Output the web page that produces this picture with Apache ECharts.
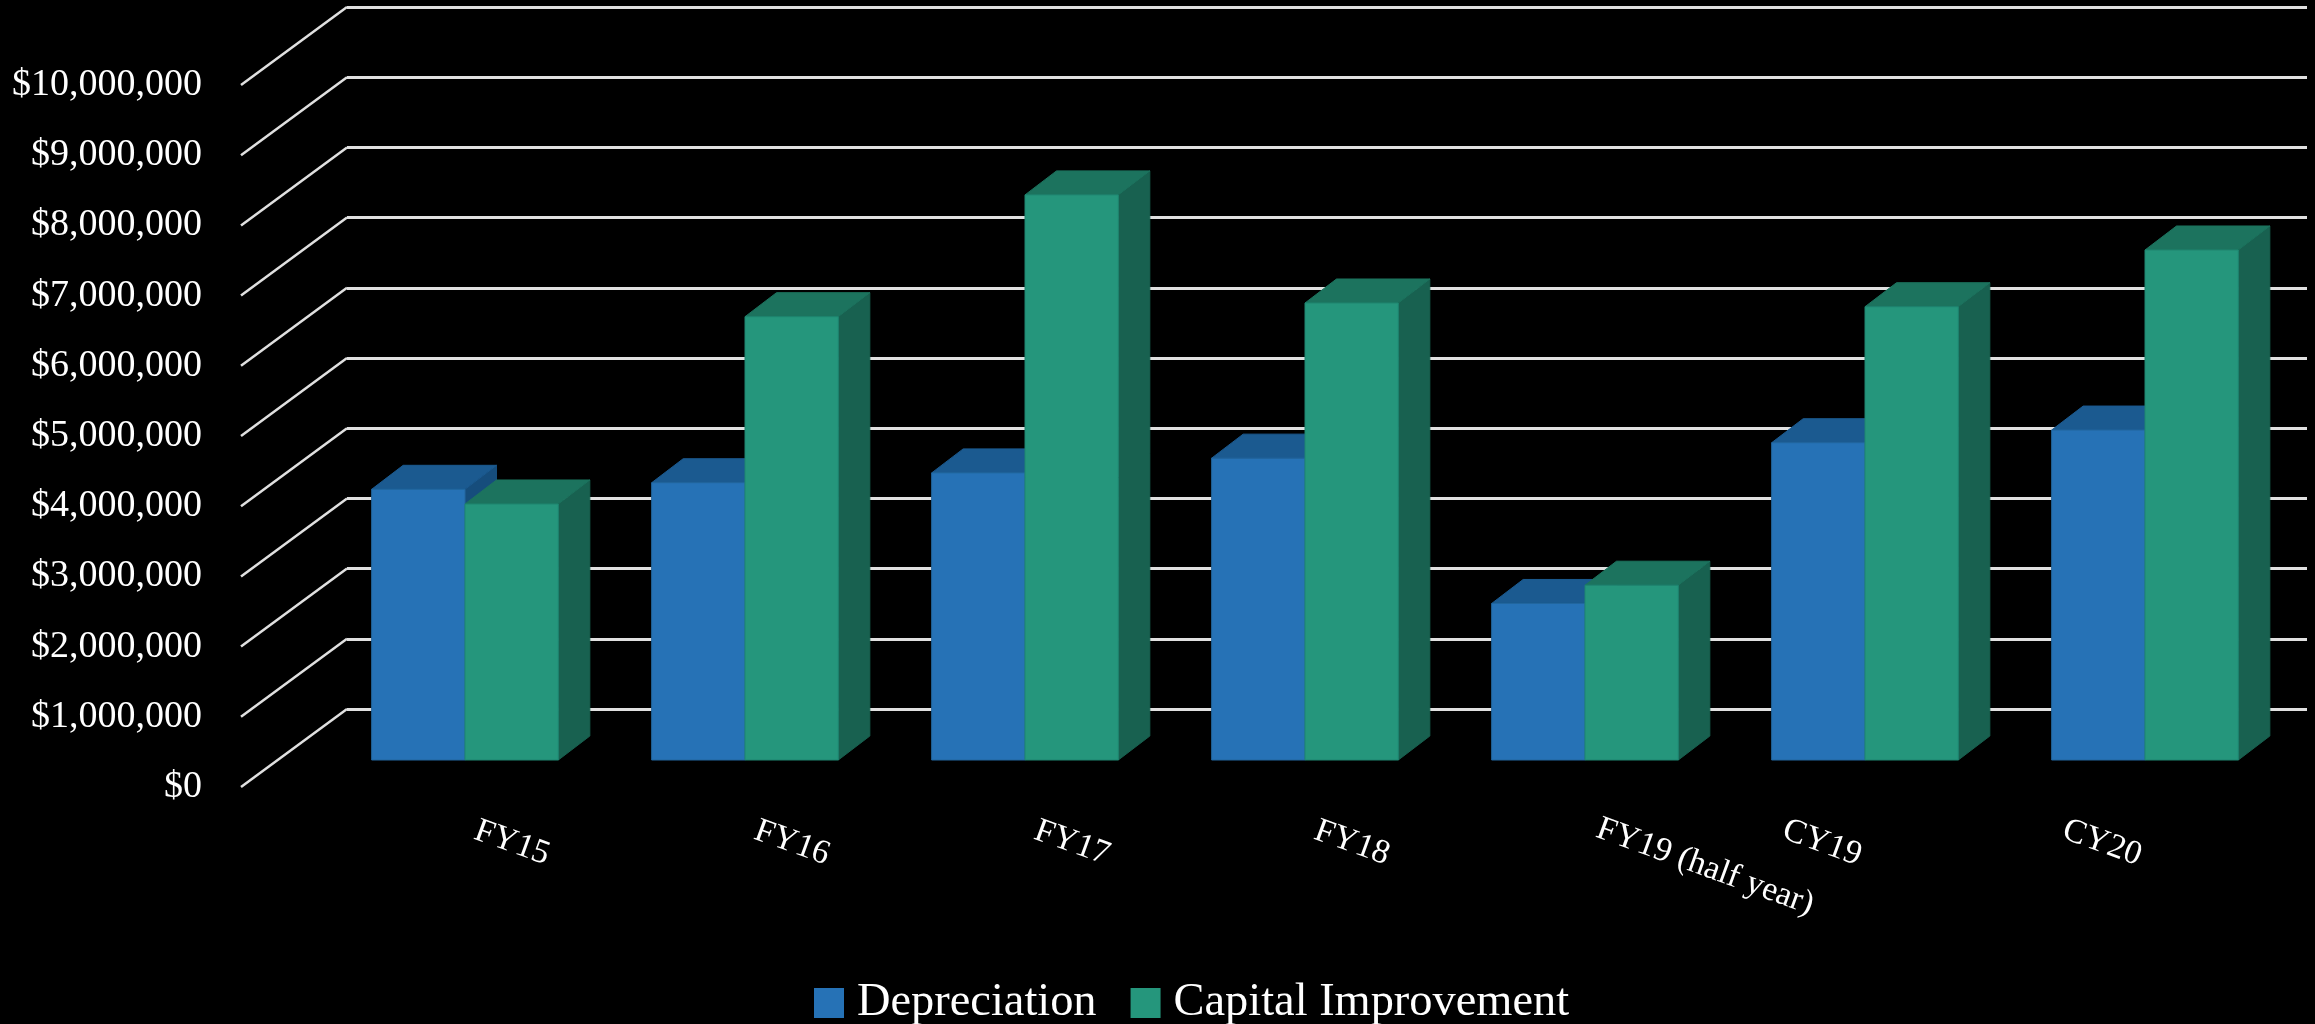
<!DOCTYPE html>
<html>
<head>
<meta charset="utf-8">
<style>html,body{margin:0;padding:0;background:#000}#chart{width:2315px;height:1024px}</style>
<script src="https://cdn.jsdelivr.net/npm/echarts@6/dist/echarts.min.js"></script>
</head>
<body>
<div id="chart"></div>
<script>
// Annual depreciation against capital improvement spending.
const categories = ['FY15', 'FY16', 'FY17', 'FY18', 'FY19 (half year)', 'CY19', 'CY20'];
const depreciation = [3856000, 3950000, 4090000, 4300000, 2230000, 4520000, 4700000];
const capitalImprovement = [3647000, 6315000, 8050000, 6510000, 2490000, 6457000, 7265000];
const tickValues = [0, 1e6, 2e6, 3e6, 4e6, 5e6, 6e6, 7e6, 8e6, 9e6, 1e7];

const FONT = '"Liberation Serif", serif';
const GRID_COLOR = '#e0e0e0';

// Oblique projection of the chart floor and of each bar's depth, in pixels.
const FLOOR_DX = 106, FLOOR_DY = 78;
const BAR_DX = 31.5, BAR_DY = 24;

// Placement of the slanted category captions relative to each band centre.
const captionDx = [47, 47, 47, 47, 120, -43, -43];
const captionY = [843, 843, 843, 843, 867, 843, 843];

const money = v => '$' + v.toLocaleString('en-US');

// Draws one block: front face, lit top, shaded side.
function blockRenderer(slot, faces) {
  return function (params, api) {
    const top = api.coord([api.value(0), api.value(1)]);
    const base = api.coord([api.value(0), 0]);
    const w = api.size([1, 0])[0] / 3;
    const x0 = top[0] + slot * w, x1 = x0 + w, y0 = top[1], y1 = base[1];
    return {
      type: 'group',
      children: [
        { type: 'polygon', shape: { points: [[x1, y0], [x1 + BAR_DX, y0 - BAR_DY], [x1 + BAR_DX, y1 - BAR_DY], [x1, y1]] },
          style: { fill: faces.side, stroke: faces.side, lineWidth: 1 } },
        { type: 'polygon', shape: { points: [[x0, y0], [x0 + BAR_DX, y0 - BAR_DY], [x1 + BAR_DX, y0 - BAR_DY], [x1, y0]] },
          style: { fill: faces.top, stroke: faces.top, lineWidth: 1 } },
        { type: 'rect', shape: { x: x0, y: y0, width: w, height: y1 - y0 },
          style: { fill: faces.front, stroke: faces.edge, lineWidth: 1 } }
      ]
    };
  };
}

const blue = { front: '#2672b6', top: '#1b5a90', side: '#164d7c', edge: '#22679f' };
const green = { front: '#25967c', top: '#1c735e', side: '#186150', edge: '#1f8570' };

const hiddenCategory = gridIndex => ({
  type: 'category', gridIndex, data: categories, boundaryGap: true,
  axisLine: { show: false }, axisTick: { show: false }, axisLabel: { show: false }, splitLine: { show: false }
});
const valueAxis = (gridIndex, extra) => Object.assign({
  type: 'value', gridIndex, min: 0, max: 10000000, interval: 1000000,
  axisLine: { show: false }, axisTick: { show: false }, axisLabel: { show: false }, splitLine: { show: false }
}, extra);

const option = {
  backgroundColor: '#000',
  animation: false,
  grid: [
    { left: 347, top: 7, width: 1960, height: 702 },   // back wall
    { left: 241, top: 85, width: 1960, height: 702 },  // front edge of the floor
    { left: 325, top: 58, width: 1960, height: 702 }   // plane of the bars' front faces
  ],
  xAxis: [hiddenCategory(0), hiddenCategory(1), hiddenCategory(2)],
  yAxis: [
    valueAxis(0, { splitLine: { show: true, lineStyle: { color: GRID_COLOR, width: 3 } } }),
    valueAxis(1, { axisLabel: { show: true, color: '#fff', fontFamily: FONT, fontSize: 38, margin: 39, padding: [0, 0, 6, 0], formatter: money } }),
    valueAxis(2)
  ],
  legend: {
    left: 809, top: 975, itemWidth: 30, itemHeight: 30, itemGap: 34,
    icon: 'rect',
    data: ['Depreciation', 'Capital Improvement'],
    textStyle: { color: '#fff', fontFamily: FONT, fontSize: 46.4, padding: [0, 0, 12, 8] }
  },
  series: [
    {
      // Diagonal floor lines running from each tick back to the wall.
      type: 'custom', name: 'depth', xAxisIndex: 1, yAxisIndex: 1, silent: true, z: 1, clip: false,
      data: tickValues.map(v => [0, v]),
      renderItem(params, api) {
        const p = api.coord([0, api.value(1)]);
        const x = params.coordSys.x;
        return { type: 'line', shape: { x1: x, y1: p[1], x2: x + FLOOR_DX, y2: p[1] - FLOOR_DY },
          style: { stroke: GRID_COLOR, lineWidth: 2.5 } };
      }
    },
    {
      type: 'custom', name: 'Depreciation', xAxisIndex: 2, yAxisIndex: 2, z: 3, clip: false,
      itemStyle: { color: blue.front },
      data: depreciation.map((v, i) => [i, v]),
      renderItem: blockRenderer(-1, blue)
    },
    {
      type: 'custom', name: 'Capital Improvement', xAxisIndex: 2, yAxisIndex: 2, z: 4, clip: false,
      itemStyle: { color: green.front },
      data: capitalImprovement.map((v, i) => [i, v]),
      renderItem: blockRenderer(0, green)
    },
    {
      // Slanted category captions below the floor.
      type: 'custom', name: 'captions', xAxisIndex: 2, yAxisIndex: 2, silent: true, z: 5, clip: false,
      data: categories.map((c, i) => [i, 0]),
      renderItem(params, api) {
        const i = api.value(0);
        const p = api.coord([i, 0]);
        return { type: 'text', x: p[0] + captionDx[i], y: captionY[i], rotation: -20 * Math.PI / 180,
          style: { text: categories[i], fill: '#fff', font: '34px ' + FONT, textAlign: 'center', textVerticalAlign: 'middle' } };
      }
    }
  ]
};

echarts.init(document.getElementById('chart'), null, { renderer: 'canvas' }).setOption(option);
</script>
</body>
</html>
